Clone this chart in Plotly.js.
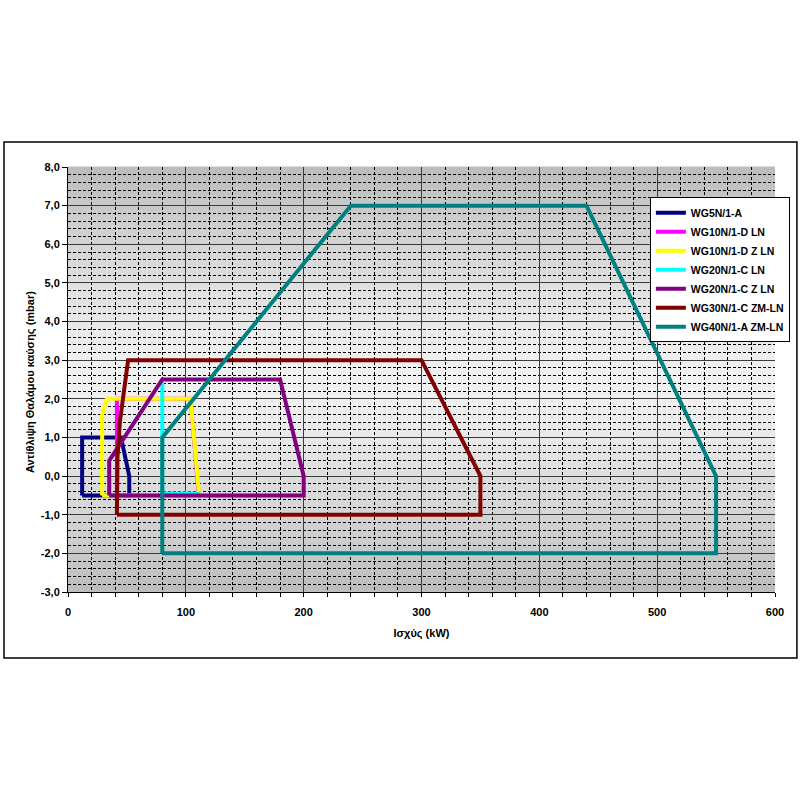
<!DOCTYPE html>
<html>
<head>
<meta charset="utf-8">
<script src="https://cdn.plot.ly/plotly-3.0.1.min.js"></script>
<style>html,body{margin:0;padding:0;background:#fff;}#chart{width:800px;height:800px;}</style>
</head>
<body>
<div id="chart"></div>
<script>
// ---- Data ----
const seriesNames = ["WG5N/1-A", "WG10N/1-D LN", "WG10N/1-D Z LN", "WG20N/1-C LN", "WG20N/1-C Z LN", "WG30N/1-C ZM-LN", "WG40N/1-A ZM-LN"];
const seriesColors = ["#000080", "#ff00ff", "#ffff00", "#00ffff", "#800080", "#800000", "#008080"];

const wg5X = [12, 12, 45, 52, 52, 12];
const wg5Y = [-0.5, 1.0, 1.0, 0.0, -0.5, -0.5];

const wg10dX = [41.5, 41.5, 104, 111, 41.5];
const wg10dY = [-0.5, 2.0, 2.0, -0.5, -0.5];

const wg10dzX = [29, 29, 33, 104, 111, 111, 29];
const wg10dzY = [-0.5, 1.6, 2.0, 2.0, -0.4, -0.5, -0.5];

const wg20cX = [112, 80, 80];
const wg20cY = [-0.45, -0.45, 2.45];

const wg20czX = [35, 35, 80, 180, 200, 200, 35];
const wg20czY = [-0.5, 0.4, 2.5, 2.5, 0.0, -0.5, -0.5];

const wg30X = [41.5, 42, 44, 51, 300, 350, 350, 41.5];
const wg30Y = [-1.0, 0.5, 1.4, 3.0, 3.0, 0.0, -1.0, -1.0];

const wg40X = [80, 80, 240, 440, 550, 550, 80];
const wg40Y = [-2.0, 1.0, 7.0, 7.0, 0.0, -2.0, -2.0];

const xTickVals = [0, 100, 200, 300, 400, 500, 600];
const xTickText = ["0", "100", "200", "300", "400", "500", "600"];
const yTickVals = [-3, -2, -1, 0, 1, 2, 3, 4, 5, 6, 7, 8];
const yTickText = ["-3,0", "-2,0", "-1,0", "0,0", "1,0", "2,0", "3,0", "4,0", "5,0", "6,0", "7,0", "8,0"];

const xTitle = "Ισχύς (kW)";
const yTitle = "Αντίθλιψη Θαλάμου καύσης (mbar)";

// ---- Traces ----
const xs = [wg5X, wg10dX, wg10dzX, wg20cX, wg20czX, wg30X, wg40X];
const ys = [wg5Y, wg10dY, wg10dzY, wg20cY, wg20czY, wg30Y, wg40Y];
const traces = seriesNames.map((n, i) => ({
  type: "scatter", mode: "lines", name: n, x: xs[i], y: ys[i],
  line: {color: seriesColors[i], width: 4}
}));

// ---- Background gradient (styling) ----
const shapes = [];
const nBands = 60;
for (let k = 0; k < nBands; k++) {
  const t = (k + 0.5) / nBands;
  const d = Math.abs(2 * t - 1);
  const g = Math.round(242 - (242 - 188) * Math.pow(d, 1.3));
  shapes.push({type: "rect", xref: "paper", yref: "paper", x0: 0, x1: 1,
    y0: k / nBands, y1: (k + 1) / nBands + 0.001, layer: "below",
    line: {width: 0}, fillcolor: `rgb(${g},${g},${g})`});
}
// outer chart frame
shapes.push({type: "rect", xref: "paper", yref: "paper",
  x0: -0.0905, x1: 1.031, y0: -0.155, y1: 1.0588, layer: "above",
  line: {color: "#000", width: 1.5}, fillcolor: "rgba(0,0,0,0)"});

const fontFam = "Liberation Sans, Arial, sans-serif";
const layout = {
  width: 800, height: 800,
  margin: {l: 68, r: 25, t: 167, b: 208, pad: 0, autoexpand: false},
  paper_bgcolor: "#fff", plot_bgcolor: "#d8d8d8",
  font: {family: fontFam, size: 11, color: "#000", weight: "bold"},
  showlegend: true,
  legend: {x: 0.823, y: 0.929, xanchor: "left", yanchor: "top",
    bgcolor: "#fff", bordercolor: "#000", borderwidth: 1,
    font: {family: fontFam, size: 10.5, color: "#000", weight: "bold"},
    tracegroupgap: 0},
  xaxis: {range: [0, 600], tickvals: xTickVals, ticktext: xTickText,
    showgrid: true, gridcolor: "#3a3a3a", gridwidth: 1,
    ticks: "outside", ticklen: 4, tickcolor: "#000", ticklabelstandoff: 6,
    showline: true, linecolor: "#000", linewidth: 1, zeroline: false,
    tickfont: {family: fontFam, size: 11, weight: "bold"},
    minor: {dtick: 20, showgrid: true, gridcolor: "#000", griddash: "3px,2px", gridwidth: 1, ticks: "outside", ticklen: 4, tickcolor: "#000"},
    title: {text: xTitle, font: {family: fontFam, size: 11, weight: "bold"}, standoff: 12}},
  yaxis: {range: [-3, 8], tickvals: yTickVals, ticktext: yTickText,
    showgrid: true, gridcolor: "#3a3a3a", gridwidth: 1,
    ticks: "outside", ticklen: 5, tickcolor: "#000",
    showline: true, linecolor: "#000", linewidth: 1, zeroline: false,
    tickfont: {family: fontFam, size: 11, weight: "bold"},
    minor: {dtick: 0.2, showgrid: true, gridcolor: "#000", griddash: "3px,2px", gridwidth: 1}},
  annotations: [{text: yTitle, textangle: -90, xref: "paper", yref: "paper",
    x: -0.0537, y: 0.494, xanchor: "center", yanchor: "middle", showarrow: false,
    font: {family: fontFam, size: 11, color: "#000", weight: "bold"}}],
  shapes: shapes
};

Plotly.newPlot("chart", traces, layout, {displayModeBar: false, staticPlot: true});
</script>
</body>
</html>
